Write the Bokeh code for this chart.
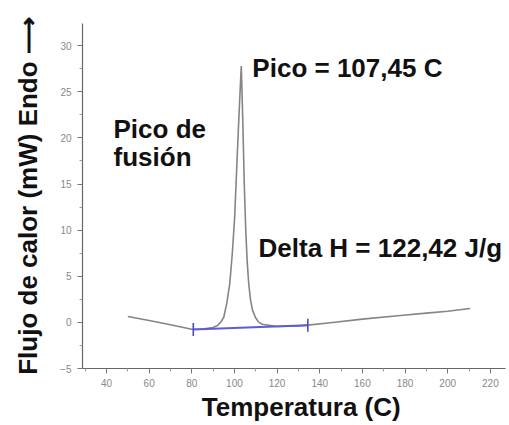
import math
from bokeh.plotting import figure
from bokeh.models import Label, FixedTicker, Range1d
from bokeh.embed import file_html
from bokeh.resources import INLINE

# ---- data ----
temp = [50, 60, 70, 80, 85, 90, 92, 93.5, 95, 96.5, 97.8, 99, 100.1, 101.2, 102.2, 103.2,
        103.9, 104.6, 105.3, 106.0, 106.7, 107.5, 108.5, 109.9, 111.5, 113, 120, 130,
        134.4, 146, 160, 177.8, 190, 200, 210.5]
heat = [0.64, 0.2, -0.25, -0.75, -0.72, -0.55, -0.35, 0.0, 0.56, 2.2, 4.2, 7.5, 11.4, 17.5,
        22.8, 27.8, 22.0, 15.0, 10.0, 6.5, 4.2, 2.5, 1.3, 0.5, 0.0, -0.2, -0.45, -0.38,
        -0.3, -0.01, 0.35, 0.75, 1.0, 1.2, 1.5]
base_t = [80.7, 134.4]
base_h = [-0.77, -0.3]

x_ticks = [40, 60, 80, 100, 120, 140, 160, 180, 200, 220]
x_minor = [30, 50, 70, 90, 110, 130, 150, 170, 190, 210]
y_ticks = [-5, 0, 5, 10, 15, 20, 25, 30]
y_minor = [-2.5, 2.5, 7.5, 12.5, 17.5, 22.5, 27.5]

FONT = "Liberation Sans"

p = figure(width=509, height=425, output_backend="svg", toolbar_location=None,
           x_range=Range1d(28.75, 227.1), y_range=Range1d(-5, 32.4),
           min_border_left=82, min_border_right=4, min_border_top=23, min_border_bottom=57)
p.outline_line_color = None
p.xgrid.visible = False
p.ygrid.visible = False
p.background_fill_color = "white"
p.border_fill_color = "white"

for ax in (p.xaxis[0], p.yaxis[0]):
    ax.axis_line_color = "#666666"
    ax.axis_line_width = 1.2
    ax.major_tick_line_color = "#777777"
    ax.minor_tick_line_color = "#999999"
    ax.major_tick_in = 0
    ax.major_tick_out = 5
    ax.minor_tick_in = 0
    ax.minor_tick_out = 3
    ax.major_label_text_color = "#888888"
    ax.major_label_text_font = FONT
    ax.major_label_text_font_size = "10px"
    ax.axis_label_text_font = FONT
    ax.axis_label_text_font_style = "bold"
    ax.axis_label_text_font_size = "26px"
    ax.axis_label_text_color = "#111111"

p.xaxis[0].ticker = FixedTicker(ticks=x_ticks, minor_ticks=x_minor)
p.yaxis[0].ticker = FixedTicker(ticks=y_ticks, minor_ticks=y_minor)
p.xaxis[0].major_label_standoff = 5
p.yaxis[0].major_label_standoff = 6
p.xaxis[0].axis_label = "\u00a0\u00a0Temperatura (C)"
p.xaxis[0].axis_label_standoff = 2
p.yaxis[0].axis_label = "Flujo de calor (mW) Endo \u27F6"
p.yaxis[0].axis_label_standoff = 14

# curve
p.line(temp, heat, line_color="#858585", line_width=1.6)
# baseline
p.line(base_t, base_h, line_color="#5c5cd6", line_width=2)
p.scatter(base_t, base_h, marker="dash", angle=math.pi / 2, size=13,
          line_color="#4a4ac8", line_width=1.6)

def lab(text, x, y, **kw):
    p.add_layout(Label(x=x, y=y, text=text, text_font=FONT, text_font_style="bold",
                       text_font_size="26px", text_color="#111111",
                       text_baseline="alphabetic", **kw))

lab("Pico = 107,45 C", 108.4, 27.6)
lab("Pico de", 43.3, 21.0)
lab("fusión", 43.3, 17.9)
lab("Delta H = 122,42 J/g", 111.3, 8.1)

open("out.html", "w").write(file_html(p, INLINE))
